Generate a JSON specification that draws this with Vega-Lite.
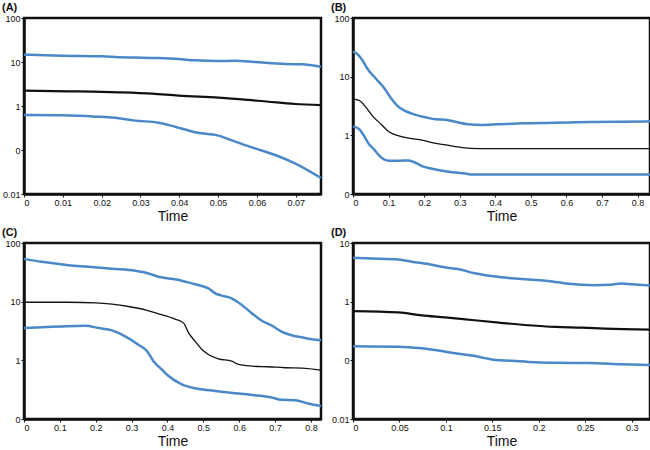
{
  "$schema": "https://vega.github.io/schema/vega-lite/v6.json",
  "padding": {"left": 0, "top": 0, "right": 1, "bottom": 0},
  "background": "white",
  "datasets": {
    "d": [
      {"p":"A","s":"up","t":0,"v":14.7},{"p":"A","s":"up","t":0.0098,"v":13.9},{"p":"A","s":"up","t":0.0201,"v":13.5},{"p":"A","s":"up","t":0.0244,"v":12.8},{"p":"A","s":"up","t":0.0287,"v":12.6},{"p":"A","s":"up","t":0.0347,"v":12.3},{"p":"A","s":"up","t":0.0398,"v":11.7},{"p":"A","s":"up","t":0.0441,"v":10.9},{"p":"A","s":"up","t":0.0501,"v":10.5},{"p":"A","s":"up","t":0.0544,"v":10.7},{"p":"A","s":"up","t":0.0595,"v":10.0},{"p":"A","s":"up","t":0.0673,"v":9.0},{"p":"A","s":"up","t":0.0715,"v":8.85},{"p":"A","s":"up","t":0.0765,"v":7.8},
      {"p":"A","s":"mid","t":0,"v":2.23},{"p":"A","s":"mid","t":0.0115,"v":2.16},{"p":"A","s":"mid","t":0.0244,"v":2.05},{"p":"A","s":"mid","t":0.033,"v":1.91},{"p":"A","s":"mid","t":0.0398,"v":1.72},{"p":"A","s":"mid","t":0.0501,"v":1.55},{"p":"A","s":"mid","t":0.0561,"v":1.42},{"p":"A","s":"mid","t":0.063,"v":1.25},{"p":"A","s":"mid","t":0.0698,"v":1.11},{"p":"A","s":"mid","t":0.0765,"v":1.05},
      {"p":"A","s":"lo","t":0,"v":0.624},{"p":"A","s":"lo","t":0.0098,"v":0.614},{"p":"A","s":"lo","t":0.0184,"v":0.573},{"p":"A","s":"lo","t":0.0244,"v":0.525},{"p":"A","s":"lo","t":0.0287,"v":0.465},{"p":"A","s":"lo","t":0.0347,"v":0.418},{"p":"A","s":"lo","t":0.0389,"v":0.339},{"p":"A","s":"lo","t":0.0441,"v":0.252},{"p":"A","s":"lo","t":0.0501,"v":0.212},{"p":"A","s":"lo","t":0.0544,"v":0.155},{"p":"A","s":"lo","t":0.0595,"v":0.109},{"p":"A","s":"lo","t":0.0647,"v":0.077},{"p":"A","s":"lo","t":0.0698,"v":0.0498},{"p":"A","s":"lo","t":0.0765,"v":0.0231},
      {"p":"B","s":"up","t":0,"v":26.7},{"p":"B","s":"up","t":0.012,"v":24.3},{"p":"B","s":"up","t":0.026,"v":19.2},{"p":"B","s":"up","t":0.04,"v":13.8},{"p":"B","s":"up","t":0.064,"v":9.3},{"p":"B","s":"up","t":0.087,"v":6.5},{"p":"B","s":"up","t":0.106,"v":4.37},{"p":"B","s":"up","t":0.124,"v":3.22},{"p":"B","s":"up","t":0.148,"v":2.58},{"p":"B","s":"up","t":0.176,"v":2.23},{"p":"B","s":"up","t":0.204,"v":2.03},{"p":"B","s":"up","t":0.232,"v":1.88},{"p":"B","s":"up","t":0.26,"v":1.85},{"p":"B","s":"up","t":0.288,"v":1.71},{"p":"B","s":"up","t":0.325,"v":1.54},{"p":"B","s":"up","t":0.363,"v":1.5},{"p":"B","s":"up","t":0.409,"v":1.54},{"p":"B","s":"up","t":0.475,"v":1.6},{"p":"B","s":"up","t":0.568,"v":1.64},{"p":"B","s":"up","t":0.662,"v":1.69},{"p":"B","s":"up","t":0.755,"v":1.71},{"p":"B","s":"up","t":0.835,"v":1.73},
      {"p":"B","s":"mid","t":0,"v":4.14},{"p":"B","s":"mid","t":0.017,"v":3.93},{"p":"B","s":"mid","t":0.036,"v":3.02},{"p":"B","s":"mid","t":0.054,"v":2.17},{"p":"B","s":"mid","t":0.078,"v":1.56},{"p":"B","s":"mid","t":0.101,"v":1.15},{"p":"B","s":"mid","t":0.129,"v":0.98},{"p":"B","s":"mid","t":0.157,"v":0.895},{"p":"B","s":"mid","t":0.194,"v":0.826},{"p":"B","s":"mid","t":0.222,"v":0.753},{"p":"B","s":"mid","t":0.26,"v":0.687},{"p":"B","s":"mid","t":0.307,"v":0.618},{"p":"B","s":"mid","t":0.353,"v":0.594},{"p":"B","s":"mid","t":0.835,"v":0.594},
      {"p":"B","s":"lo","t":0,"v":1.42},{"p":"B","s":"lo","t":0.017,"v":1.28},{"p":"B","s":"lo","t":0.031,"v":0.98},{"p":"B","s":"lo","t":0.045,"v":0.706},{"p":"B","s":"lo","t":0.059,"v":0.578},{"p":"B","s":"lo","t":0.073,"v":0.456},{"p":"B","s":"lo","t":0.087,"v":0.389},{"p":"B","s":"lo","t":0.101,"v":0.369},{"p":"B","s":"lo","t":0.129,"v":0.369},{"p":"B","s":"lo","t":0.157,"v":0.374},{"p":"B","s":"lo","t":0.176,"v":0.341},{"p":"B","s":"lo","t":0.194,"v":0.299},{"p":"B","s":"lo","t":0.222,"v":0.269},{"p":"B","s":"lo","t":0.269,"v":0.239},{"p":"B","s":"lo","t":0.316,"v":0.223},{"p":"B","s":"lo","t":0.335,"v":0.215},{"p":"B","s":"lo","t":0.835,"v":0.215},
      {"p":"C","s":"up","t":0,"v":53.6},{"p":"C","s":"up","t":0.05,"v":47.7},{"p":"C","s":"up","t":0.124,"v":41.9},{"p":"C","s":"up","t":0.18,"v":39.3},{"p":"C","s":"up","t":0.245,"v":36.3},{"p":"C","s":"up","t":0.31,"v":33.6},{"p":"C","s":"up","t":0.347,"v":30.3},{"p":"C","s":"up","t":0.375,"v":26.6},{"p":"C","s":"up","t":0.403,"v":24.9},{"p":"C","s":"up","t":0.44,"v":22.8},{"p":"C","s":"up","t":0.468,"v":20.5},{"p":"C","s":"up","t":0.496,"v":18.5},{"p":"C","s":"up","t":0.514,"v":16.9},{"p":"C","s":"up","t":0.533,"v":13.9},{"p":"C","s":"up","t":0.551,"v":12.7},{"p":"C","s":"up","t":0.579,"v":11.4},{"p":"C","s":"up","t":0.607,"v":8.8},{"p":"C","s":"up","t":0.635,"v":6.37},{"p":"C","s":"up","t":0.663,"v":4.73},{"p":"C","s":"up","t":0.69,"v":3.94},{"p":"C","s":"up","t":0.718,"v":3.08},{"p":"C","s":"up","t":0.746,"v":2.67},{"p":"C","s":"up","t":0.774,"v":2.47},{"p":"C","s":"up","t":0.802,"v":2.29},{"p":"C","s":"up","t":0.828,"v":2.2},
      {"p":"C","s":"mid","t":0,"v":9.78},{"p":"C","s":"mid","t":0.124,"v":9.78},{"p":"C","s":"mid","t":0.199,"v":9.53},{"p":"C","s":"mid","t":0.245,"v":9.05},{"p":"C","s":"mid","t":0.291,"v":8.27},{"p":"C","s":"mid","t":0.338,"v":7.26},{"p":"C","s":"mid","t":0.375,"v":6.21},{"p":"C","s":"mid","t":0.421,"v":5.04},{"p":"C","s":"mid","t":0.445,"v":4.31},{"p":"C","s":"mid","t":0.458,"v":3.0},{"p":"C","s":"mid","t":0.477,"v":2.11},{"p":"C","s":"mid","t":0.496,"v":1.53},{"p":"C","s":"mid","t":0.514,"v":1.26},{"p":"C","s":"mid","t":0.542,"v":1.06},{"p":"C","s":"mid","t":0.579,"v":0.968},{"p":"C","s":"mid","t":0.598,"v":0.851},{"p":"C","s":"mid","t":0.635,"v":0.798},{"p":"C","s":"mid","t":0.681,"v":0.777},{"p":"C","s":"mid","t":0.728,"v":0.748},{"p":"C","s":"mid","t":0.774,"v":0.738},{"p":"C","s":"mid","t":0.828,"v":0.683},
      {"p":"C","s":"lo","t":0,"v":3.55},{"p":"C","s":"lo","t":0.05,"v":3.65},{"p":"C","s":"lo","t":0.106,"v":3.79},{"p":"C","s":"lo","t":0.171,"v":3.89},{"p":"C","s":"lo","t":0.208,"v":3.55},{"p":"C","s":"lo","t":0.245,"v":3.24},{"p":"C","s":"lo","t":0.282,"v":2.57},{"p":"C","s":"lo","t":0.319,"v":1.85},{"p":"C","s":"lo","t":0.343,"v":1.43},{"p":"C","s":"lo","t":0.361,"v":0.968},{"p":"C","s":"lo","t":0.384,"v":0.7},{"p":"C","s":"lo","t":0.403,"v":0.541},{"p":"C","s":"lo","t":0.44,"v":0.39},{"p":"C","s":"lo","t":0.477,"v":0.334},{"p":"C","s":"lo","t":0.533,"v":0.301},{"p":"C","s":"lo","t":0.588,"v":0.275},{"p":"C","s":"lo","t":0.644,"v":0.254},{"p":"C","s":"lo","t":0.69,"v":0.232},{"p":"C","s":"lo","t":0.718,"v":0.212},{"p":"C","s":"lo","t":0.755,"v":0.209},{"p":"C","s":"lo","t":0.792,"v":0.184},{"p":"C","s":"lo","t":0.828,"v":0.166},
      {"p":"D","s":"up","t":0,"v":5.59},{"p":"D","s":"up","t":0.02,"v":5.45},{"p":"D","s":"up","t":0.049,"v":5.24},{"p":"D","s":"up","t":0.063,"v":4.79},{"p":"D","s":"up","t":0.081,"v":4.38},{"p":"D","s":"up","t":0.099,"v":3.85},{"p":"D","s":"up","t":0.114,"v":3.56},{"p":"D","s":"up","t":0.131,"v":3.05},{"p":"D","s":"up","t":0.153,"v":2.68},{"p":"D","s":"up","t":0.171,"v":2.51},{"p":"D","s":"up","t":0.189,"v":2.38},{"p":"D","s":"up","t":0.21,"v":2.26},{"p":"D","s":"up","t":0.232,"v":2.02},{"p":"D","s":"up","t":0.246,"v":1.94},{"p":"D","s":"up","t":0.26,"v":1.91},{"p":"D","s":"up","t":0.275,"v":1.94},{"p":"D","s":"up","t":0.289,"v":2.04},{"p":"D","s":"up","t":0.3,"v":1.99},{"p":"D","s":"up","t":0.32,"v":1.89},
      {"p":"D","s":"mid","t":0,"v":0.69},{"p":"D","s":"mid","t":0.049,"v":0.656},{"p":"D","s":"mid","t":0.074,"v":0.584},{"p":"D","s":"mid","t":0.099,"v":0.54},{"p":"D","s":"mid","t":0.128,"v":0.487},{"p":"D","s":"mid","t":0.157,"v":0.439},{"p":"D","s":"mid","t":0.189,"v":0.396},{"p":"D","s":"mid","t":0.218,"v":0.371},{"p":"D","s":"mid","t":0.246,"v":0.362},{"p":"D","s":"mid","t":0.271,"v":0.348},{"p":"D","s":"mid","t":0.32,"v":0.335},
      {"p":"D","s":"lo","t":0,"v":0.173},{"p":"D","s":"lo","t":0.049,"v":0.171},{"p":"D","s":"lo","t":0.074,"v":0.16},{"p":"D","s":"lo","t":0.092,"v":0.147},{"p":"D","s":"lo","t":0.11,"v":0.132},{"p":"D","s":"lo","t":0.128,"v":0.121},{"p":"D","s":"lo","t":0.142,"v":0.109},{"p":"D","s":"lo","t":0.153,"v":0.101},{"p":"D","s":"lo","t":0.171,"v":0.098},{"p":"D","s":"lo","t":0.189,"v":0.094},{"p":"D","s":"lo","t":0.218,"v":0.091},{"p":"D","s":"lo","t":0.253,"v":0.09},{"p":"D","s":"lo","t":0.289,"v":0.086},{"p":"D","s":"lo","t":0.32,"v":0.083}
    ]
  },
  "columns": 2,
  "spacing": {"row": 0, "column": 1},
  "concat": [
    {
      "title": "(A)",
      "width": 297, "height": 176,
      "data": {"name": "d"},
      "transform": [{"filter": "datum.p == 'A'"}],
      "encoding": {
        "x": {"field": "t", "type": "quantitative", "title": "Time", "scale": {"domain": [0, 0.0765], "nice": false}, "axis": {"values": [0, 0.01, 0.02, 0.03, 0.04, 0.05, 0.06, 0.07], "format": "~g"}},
        "y": {"field": "v", "type": "quantitative", "title": null, "scale": {"type": "log", "domain": [0.01, 100], "nice": false}, "axis": {"values": [0.01, 0.1, 1, 10, 100], "labelExpr": "datum.value < 0.05 ? '0.01' : datum.value < 0.5 ? '0' : format(datum.value, 'd')"}}
      },
      "layer": [
        {"transform": [{"filter": "datum.s != 'mid'"}], "mark": {"type": "line", "color": "#4a88c8", "strokeWidth": 2.5, "interpolate": "monotone"}, "encoding": {"detail": {"field": "s"}}},
        {"transform": [{"filter": "datum.s == 'mid'"}], "mark": {"type": "line", "color": "#111111", "strokeWidth": 2.2, "interpolate": "monotone"}, "encoding": {}}
      ]
    },
    {
      "title": "(B)",
      "width": 297, "height": 176,
      "data": {"name": "d"},
      "transform": [{"filter": "datum.p == 'B'"}],
      "encoding": {
        "x": {"field": "t", "type": "quantitative", "title": "Time", "scale": {"domain": [0, 0.835], "nice": false}, "axis": {"values": [0, 0.1, 0.2, 0.3, 0.4, 0.5, 0.6, 0.7, 0.8], "format": "~g"}},
        "y": {"field": "v", "type": "quantitative", "title": null, "scale": {"type": "log", "domain": [0.1, 100], "nice": false}, "axis": {"values": [0.1, 1, 10, 100], "labelExpr": "datum.value < 0.5 ? '0' : format(datum.value, 'd')"}}
      },
      "layer": [
        {"transform": [{"filter": "datum.s != 'mid'"}], "mark": {"type": "line", "color": "#4a88c8", "strokeWidth": 2.5, "interpolate": "monotone"}, "encoding": {"detail": {"field": "s"}}},
        {"transform": [{"filter": "datum.s == 'mid'"}], "mark": {"type": "line", "color": "#111111", "strokeWidth": 1.3, "interpolate": "monotone"}, "encoding": {}}
      ]
    },
    {
      "title": "(C)",
      "width": 297, "height": 176,
      "data": {"name": "d"},
      "transform": [{"filter": "datum.p == 'C'"}],
      "encoding": {
        "x": {"field": "t", "type": "quantitative", "title": "Time", "scale": {"domain": [0, 0.828], "nice": false}, "axis": {"values": [0, 0.1, 0.2, 0.3, 0.4, 0.5, 0.6, 0.7, 0.8], "format": "~g"}},
        "y": {"field": "v", "type": "quantitative", "title": null, "scale": {"type": "log", "domain": [0.1, 100], "nice": false}, "axis": {"values": [0.1, 1, 10, 100], "labelExpr": "datum.value < 0.5 ? '0' : format(datum.value, 'd')"}}
      },
      "layer": [
        {"transform": [{"filter": "datum.s != 'mid'"}], "mark": {"type": "line", "color": "#4a88c8", "strokeWidth": 2.5, "interpolate": "monotone"}, "encoding": {"detail": {"field": "s"}}},
        {"transform": [{"filter": "datum.s == 'mid'"}], "mark": {"type": "line", "color": "#111111", "strokeWidth": 1.3, "interpolate": "monotone"}, "encoding": {}}
      ]
    },
    {
      "title": "(D)",
      "width": 297, "height": 176,
      "data": {"name": "d"},
      "transform": [{"filter": "datum.p == 'D'"}],
      "encoding": {
        "x": {"field": "t", "type": "quantitative", "title": "Time", "scale": {"domain": [0, 0.3197], "nice": false}, "axis": {"values": [0, 0.05, 0.1, 0.15, 0.2, 0.25, 0.3], "format": "~g"}},
        "y": {"field": "v", "type": "quantitative", "title": null, "scale": {"type": "log", "domain": [0.01, 10], "nice": false}, "axis": {"values": [0.01, 0.1, 1, 10], "labelExpr": "datum.value < 0.05 ? '0.01' : datum.value < 0.5 ? '0' : format(datum.value, 'd')"}}
      },
      "layer": [
        {"transform": [{"filter": "datum.s != 'mid'"}], "mark": {"type": "line", "color": "#4a88c8", "strokeWidth": 2.5, "interpolate": "monotone"}, "encoding": {"detail": {"field": "s"}}},
        {"transform": [{"filter": "datum.s == 'mid'"}], "mark": {"type": "line", "color": "#111111", "strokeWidth": 2.2, "interpolate": "monotone"}, "encoding": {}}
      ]
    }
  ],
  "config": {
    "view": {"stroke": "#111111", "strokeWidth": 2.5},
    "axis": {"grid": false, "domainColor": "#111111", "domainWidth": 2.5, "tickColor": "#111111", "tickSize": 3, "labelColor": "#111111", "labelFont": "Liberation Sans", "labelFontSize": 9, "labelPadding": 1, "titleFont": "Liberation Sans", "titleFontSize": 14, "titleFontWeight": "normal", "titleColor": "#111111", "titlePadding": 2},
    "axisY": {"minExtent": 22, "maxExtent": 22},
    "title": {"anchor": "start", "frame": "bounds", "font": "Liberation Sans", "fontSize": 11, "fontWeight": "bold", "color": "#111111", "offset": 1}
  }
}
